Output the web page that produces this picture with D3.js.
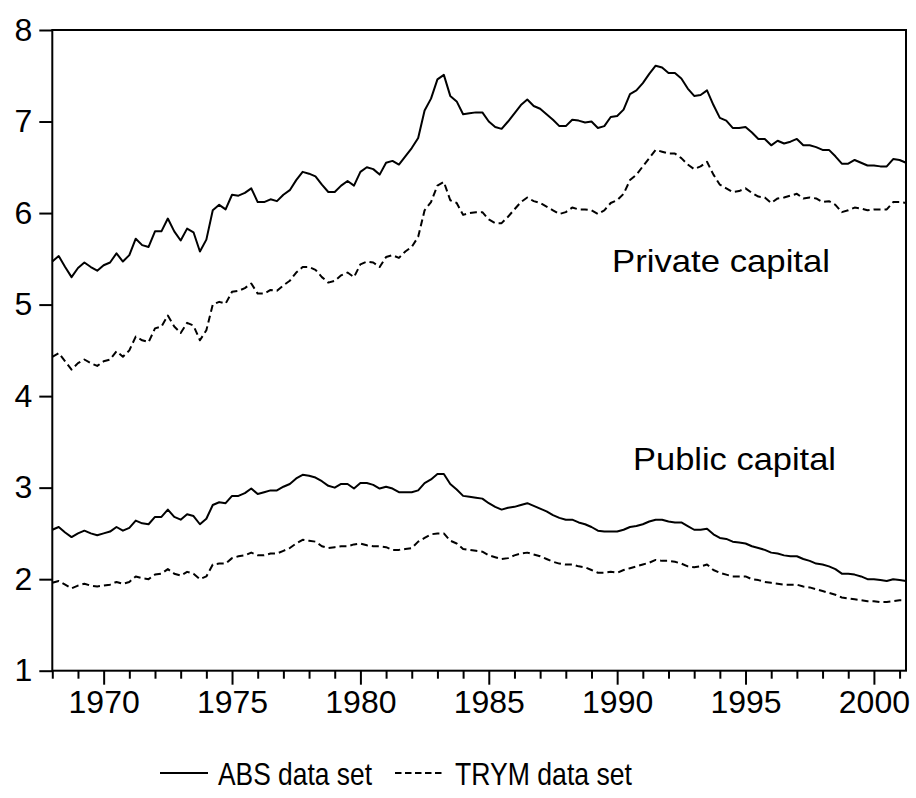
<!DOCTYPE html>
<html>
<head>
<meta charset="utf-8">
<script src="https://cdn.jsdelivr.net/npm/d3@7/dist/d3.min.js"></script>
<style>
  html, body { margin: 0; padding: 0; background: #fff; }
  svg { display: block; }
  text { font-family: "Liberation Sans", Arial, Helvetica, sans-serif; fill: #000; }
</style>
</head>
<body>
<svg id="chart" width="916" height="798"></svg>
<script>
// Quarterly observations, 1968Q1 .. 2001Q2
const startYear = 1968;
const absPrivate = [
  5.47,5.53,5.41,5.30,5.40,5.46,5.41,5.37,5.43,5.46,5.56,5.47,5.54,5.72,5.65,5.63,5.80,5.80,5.94,5.80,5.70,5.83,5.79,5.58,5.71,6.03,6.09,6.04,6.20,6.19,6.22,6.27,6.12,6.12,
  6.15,6.13,6.20,6.25,6.36,6.45,6.43,6.40,6.31,6.23,6.23,6.30,6.35,6.30,6.45,6.50,6.48,6.42,6.55,6.57,6.53,6.62,6.71,6.82,7.12,7.25,7.46,7.51,7.28,7.22,7.08,7.09,7.10,7.10,
  7.00,6.94,6.92,7.00,7.09,7.18,7.24,7.17,7.14,7.08,7.02,6.95,6.95,7.02,7.01,6.99,7.00,6.93,6.95,7.05,7.06,7.13,7.30,7.34,7.42,7.52,7.61,7.59,7.53,7.53,7.47,7.36,7.28,
  7.29,7.34,7.18,7.04,7.01,6.93,6.93,6.94,6.88,6.81,6.81,6.74,6.79,6.76,6.78,6.81,6.74,6.74,6.72,6.69,6.69,6.62,6.54,6.54,6.58,6.55,6.52,6.52,6.51,6.51,6.59,6.58,6.55
];
const trymPrivate = [
  4.43,4.47,4.38,4.29,4.36,4.40,4.36,4.33,4.38,4.40,4.49,4.43,4.50,4.65,4.61,4.59,4.74,4.76,4.88,4.76,4.69,4.80,4.77,4.61,4.72,5.00,5.03,5.01,5.14,5.15,5.18,5.23,5.12,5.12,
  5.16,5.15,5.21,5.26,5.35,5.41,5.41,5.38,5.30,5.24,5.26,5.32,5.35,5.30,5.44,5.47,5.46,5.41,5.52,5.54,5.51,5.58,5.63,5.74,6.03,6.12,6.30,6.34,6.14,6.11,5.98,6.00,6.01,6.01,
  5.93,5.89,5.89,5.96,6.04,6.12,6.17,6.13,6.11,6.07,6.03,5.99,6.01,6.06,6.04,6.04,6.03,5.99,6.03,6.11,6.14,6.21,6.36,6.42,6.51,6.60,6.69,6.67,6.65,6.65,6.60,6.53,6.48,
  6.51,6.56,6.42,6.31,6.27,6.23,6.24,6.27,6.22,6.18,6.17,6.11,6.16,6.17,6.19,6.21,6.16,6.17,6.16,6.12,6.13,6.09,6.01,6.03,6.06,6.05,6.03,6.04,6.04,6.04,6.12,6.12,6.11
];
const absPublic = [
  2.54,2.57,2.51,2.46,2.50,2.53,2.50,2.48,2.50,2.52,2.57,2.53,2.56,2.64,2.61,2.60,2.68,2.68,2.76,2.68,2.65,2.71,2.69,2.60,2.66,2.81,2.84,2.83,2.91,2.91,2.94,2.99,2.93,2.95,
  2.97,2.97,3.01,3.04,3.10,3.14,3.13,3.11,3.07,3.02,3.00,3.04,3.04,2.99,3.05,3.05,3.03,2.99,3.01,2.99,2.95,2.95,2.95,2.97,3.05,3.09,3.15,3.15,3.04,2.98,2.91,2.90,2.89,2.88,
  2.83,2.79,2.76,2.78,2.79,2.81,2.83,2.80,2.77,2.74,2.70,2.67,2.65,2.65,2.62,2.60,2.57,2.53,2.52,2.52,2.52,2.54,2.57,2.58,2.60,2.63,2.65,2.65,2.63,2.62,2.62,2.58,2.54,
  2.54,2.55,2.49,2.45,2.44,2.41,2.40,2.39,2.36,2.34,2.32,2.29,2.28,2.26,2.25,2.25,2.22,2.20,2.17,2.16,2.14,2.11,2.06,2.06,2.05,2.03,2.00,2.00,1.99,1.98,2.00,1.99,1.98
];
const trymPublic = [
  1.96,1.98,1.94,1.90,1.93,1.95,1.93,1.92,1.93,1.94,1.97,1.95,1.97,2.03,2.01,2.00,2.05,2.06,2.11,2.06,2.04,2.08,2.06,2.00,2.03,2.16,2.17,2.17,2.23,2.25,2.26,2.29,2.26,2.26,
  2.28,2.28,2.31,2.34,2.39,2.43,2.42,2.41,2.36,2.34,2.35,2.36,2.36,2.38,2.39,2.37,2.36,2.36,2.35,2.32,2.32,2.33,2.34,2.41,2.45,2.49,2.50,2.50,2.42,2.39,2.33,2.32,2.31,2.30,
  2.26,2.24,2.22,2.23,2.26,2.28,2.29,2.27,2.25,2.22,2.19,2.17,2.16,2.16,2.14,2.13,2.10,2.07,2.07,2.08,2.07,2.10,2.12,2.14,2.16,2.18,2.21,2.20,2.20,2.19,2.17,2.14,2.13,
  2.14,2.16,2.10,2.07,2.05,2.03,2.03,2.03,2.00,1.99,1.97,1.96,1.95,1.94,1.94,1.94,1.92,1.91,1.89,1.87,1.85,1.83,1.80,1.79,1.78,1.77,1.76,1.76,1.75,1.75,1.76,1.77,1.77
];
const yTicks = [1, 2, 3, 4, 5, 6, 7, 8];
const xMajorTicks = [1970, 1975, 1980, 1985, 1990, 1995, 2000];
const xMinorTicks = [1968,1969,1971,1972,1973,1974,1976,1977,1978,1979,1981,1982,1983,1984,1986,1987,1988,1989,1991,1992,1993,1994,1996,1997,1998,1999,2001];
const seriesNames = ["ABS data set", "TRYM data set"];
const annotations = ["Private capital", "Public capital"];

(function () {
const svg = d3.select("#chart");
const mLeft = 52.3, mRight = 906, mTop = 30, mBottom = 670.7;
const fontFam = '"Liberation Sans", Arial, Helvetica, sans-serif';

const x = d3.scaleLinear().domain([1968, 2001.25]).range([mLeft, mRight]);
const y = d3.scaleLinear().domain([1, 8]).range([mBottom, mTop]);
const t = i => startYear + i / 4;

const line = d3.line().x((d, i) => x(t(i))).y(d => y(d));

const dash = "7,4";
const series = [
  { values: absPrivate, dash: null },
  { values: trymPrivate, dash: dash },
  { values: absPublic, dash: null },
  { values: trymPublic, dash: dash }
];
svg.append("g").selectAll("path").data(series).join("path")
  .attr("d", d => line(d.values))
  .attr("fill", "none")
  .attr("stroke", "#000")
  .attr("stroke-width", 2)
  .attr("stroke-linejoin", "round")
  .attr("stroke-dasharray", d => d.dash);

// Frame
svg.append("rect")
  .attr("x", mLeft).attr("y", mTop)
  .attr("width", mRight - mLeft).attr("height", mBottom - mTop)
  .attr("fill", "none").attr("stroke", "#000").attr("stroke-width", 2);

// Y axis
const yAxis = d3.axisLeft(y).tickValues(yTicks).tickSize(13).tickPadding(7).tickFormat(d3.format("d"));
const gy = svg.append("g").attr("transform", `translate(${mLeft},0)`).call(yAxis);
gy.select(".domain").remove();
gy.selectAll(".tick line").attr("stroke", "#000").attr("stroke-width", 2);
gy.selectAll(".tick text").attr("font-size", 32).attr("font-family", fontFam);

// X axis: minor and major ticks
const gxMinor = svg.append("g").attr("transform", `translate(0,${mBottom})`)
  .call(d3.axisBottom(x).tickValues(xMinorTicks).tickSize(8).tickFormat(""));
gxMinor.select(".domain").remove();
gxMinor.selectAll(".tick line").attr("stroke", "#000").attr("stroke-width", 2);

const gx = svg.append("g").attr("transform", `translate(0,${mBottom})`)
  .call(d3.axisBottom(x).tickValues(xMajorTicks).tickSize(14).tickPadding(6).tickFormat(d3.format("d")));
gx.select(".domain").remove();
gx.selectAll(".tick line").attr("stroke", "#000").attr("stroke-width", 2);
gx.selectAll(".tick text").attr("font-size", 32).attr("font-family", fontFam);

// Annotations
svg.append("text").attr("x", 612).attr("y", 271.5).attr("font-size", 32)
  .attr("textLength", 218).attr("lengthAdjust", "spacingAndGlyphs").text(annotations[0]);
svg.append("text").attr("x", 633).attr("y", 469.5).attr("font-size", 32)
  .attr("textLength", 203).attr("lengthAdjust", "spacingAndGlyphs").text(annotations[1]);

// Legend
const lg = svg.append("g");
lg.append("line").attr("x1", 160).attr("x2", 208).attr("y1", 773).attr("y2", 773)
  .attr("stroke", "#000").attr("stroke-width", 2);
lg.append("text").attr("x", 218).attr("y", 785).attr("font-size", 32)
  .attr("textLength", 154).attr("lengthAdjust", "spacingAndGlyphs").text(seriesNames[0]);
lg.append("line").attr("x1", 395).attr("x2", 442).attr("y1", 773).attr("y2", 773)
  .attr("stroke", "#000").attr("stroke-width", 2).attr("stroke-dasharray", "6.5,3.5");
lg.append("text").attr("x", 455).attr("y", 785).attr("font-size", 32)
  .attr("textLength", 177).attr("lengthAdjust", "spacingAndGlyphs").text(seriesNames[1]);
})();
</script>
</body>
</html>
